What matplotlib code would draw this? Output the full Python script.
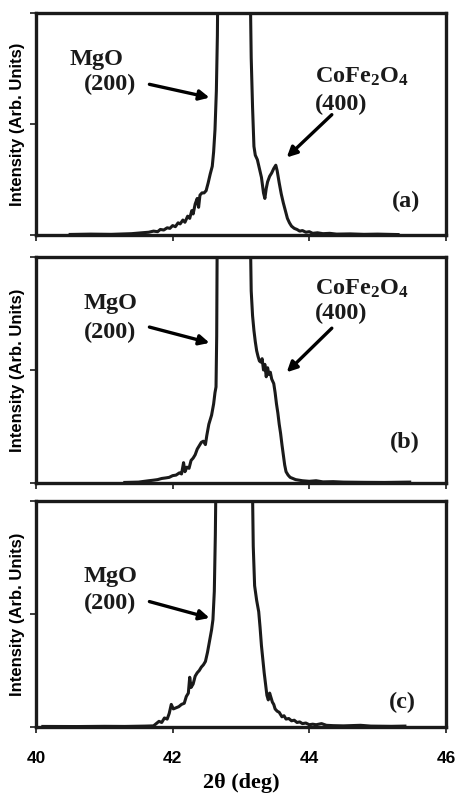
import numpy as np
import matplotlib.pyplot as plt

plt.rcParams['mathtext.fontset'] = 'custom'
plt.rcParams['mathtext.rm'] = 'Liberation Serif:bold'
plt.rcParams['mathtext.bf'] = 'Liberation Serif:bold'
plt.rcParams['mathtext.it'] = 'Liberation Serif:bold'

# Dane (2theta w stopniach, intensywnosc w j. umownych)
x_a = [40.5, 40.8, 41.1, 41.4, 41.55, 41.65, 41.72, 41.78, 41.82, 41.87, 41.92, 41.96,
       42.0, 42.04, 42.08, 42.11, 42.15, 42.18, 42.22, 42.25, 42.28, 42.3, 42.33, 42.36,
       42.38, 42.4, 42.43, 42.46, 42.49, 42.52, 42.55, 42.58, 42.6, 42.62, 42.64, 42.655,
       42.665, 42.7, 43.1, 43.13, 43.15, 43.17, 43.19, 43.21, 43.24, 43.27, 43.3, 43.33,
       43.35, 43.37, 43.39, 43.42, 43.45, 43.48, 43.51, 43.53, 43.56, 43.59, 43.62, 43.65,
       43.68, 43.71, 43.74, 43.78, 43.82, 43.86, 43.9, 43.95, 44.0, 44.05, 44.12, 44.2,
       44.3, 44.4, 44.6, 44.8, 45.0, 45.3]
y_a = [0.005, 0.008, 0.006, 0.012, 0.02, 0.025, 0.035, 0.03, 0.05, 0.045, 0.065, 0.06,
       0.085, 0.075, 0.11, 0.10, 0.135, 0.115, 0.17, 0.15, 0.22, 0.19, 0.28, 0.33,
       0.25, 0.36, 0.38, 0.38, 0.40, 0.47, 0.55, 0.62, 0.75, 0.95, 1.3, 1.8,
       2.5, 10, 10, 2.5, 1.6, 1.15, 0.8, 0.72, 0.68, 0.6, 0.52, 0.38,
       0.33, 0.42, 0.48, 0.53, 0.56, 0.6, 0.63, 0.58, 0.47, 0.37, 0.29, 0.22,
       0.15, 0.11, 0.08, 0.06, 0.05, 0.035, 0.04, 0.025, 0.03, 0.015, 0.02, 0.012,
       0.015, 0.008, 0.01, 0.006, 0.008, 0.004]

x_b = [41.3, 41.5, 41.65, 41.72, 41.78, 41.84, 41.9, 41.95, 42.0, 42.05, 42.1, 42.13,
       42.16, 42.18, 42.21, 42.24, 42.27, 42.3, 42.33, 42.36, 42.39, 42.42, 42.45, 42.48,
       42.5, 42.53, 42.55, 42.57, 42.6, 42.62, 42.635, 42.645, 42.655, 42.7, 43.1, 43.13,
       43.15, 43.17, 43.19, 43.21, 43.23, 43.25, 43.27, 43.29, 43.31, 43.33, 43.35, 43.37,
       43.39, 43.41, 43.43, 43.45, 43.48, 43.5, 43.52, 43.54, 43.56, 43.58, 43.6, 43.62,
       43.64, 43.66, 43.69, 43.72, 43.76, 43.8, 43.85, 43.9, 44.0, 44.1, 44.2, 44.35,
       44.5, 44.8, 45.1, 45.47]
y_b = [0.005, 0.008, 0.02, 0.025, 0.03, 0.04, 0.045, 0.05, 0.065, 0.07, 0.09, 0.08,
       0.18, 0.1, 0.14, 0.13, 0.2, 0.22, 0.25, 0.3, 0.33, 0.36, 0.37, 0.34,
       0.42, 0.52, 0.56, 0.6, 0.7, 0.8, 0.85, 1.3, 2.5, 10, 10, 2.5,
       1.7, 1.48, 1.35, 1.25, 1.17, 1.12, 1.08, 1.07, 1.1, 1.0, 1.05, 0.94,
       1.02, 0.96, 0.98, 0.92, 0.88, 0.8, 0.7, 0.62, 0.52, 0.44, 0.34, 0.25,
       0.16, 0.1, 0.07, 0.05, 0.04, 0.03, 0.025, 0.02, 0.015, 0.02, 0.01, 0.012,
       0.008, 0.006, 0.005, 0.008]

x_c = [40.1, 40.6, 41.0, 41.3, 41.6, 41.72, 41.76, 41.8, 41.84, 41.88, 41.92, 41.95,
       41.98, 42.01, 42.05, 42.09, 42.13, 42.17, 42.2, 42.23, 42.25, 42.27, 42.3, 42.33,
       42.36, 42.39, 42.42, 42.45, 42.48, 42.51, 42.54, 42.57, 42.59, 42.61, 42.625, 42.64,
       42.7, 43.12, 43.16, 43.18, 43.2, 43.23, 43.26, 43.28, 43.3, 43.32, 43.34, 43.36,
       43.38, 43.4, 43.42, 43.44, 43.46, 43.48, 43.5, 43.53, 43.56, 43.6, 43.63, 43.66,
       43.7, 43.74, 43.78, 43.82, 43.86, 43.9, 43.95, 44.0, 44.05, 44.1, 44.18, 44.25,
       44.35, 44.5, 44.75, 44.9, 45.2, 45.4]
y_c = [0.005, 0.004, 0.006, 0.005, 0.008, 0.01, 0.03, 0.05, 0.04, 0.08, 0.07, 0.12,
       0.2, 0.16, 0.17, 0.18, 0.2, 0.21, 0.27, 0.3, 0.44, 0.35, 0.38, 0.45,
       0.48, 0.5, 0.53, 0.55, 0.58, 0.66, 0.76, 0.86, 0.95, 1.2, 1.7, 2.5,
       10, 10, 2.5, 1.6, 1.25, 1.12, 1.02, 0.88, 0.72, 0.6, 0.48, 0.38,
       0.28, 0.24, 0.3, 0.26, 0.22, 0.2, 0.16, 0.14, 0.13, 0.09, 0.1, 0.07,
       0.075, 0.055, 0.06, 0.04, 0.045, 0.03, 0.035, 0.02, 0.025, 0.02, 0.03, 0.015,
       0.012, 0.01, 0.015, 0.008, 0.006, 0.008]

panel_labels = ['(a)', '(b)', '(c)']
x_ticks = [40, 42, 44, 46]

serif = 'Liberation Serif'
sans = 'Liberation Sans'

fig = plt.figure(figsize=(4.58, 8.0), dpi=100)
# pozycje paneli [lewo, dol, szerokosc, wysokosc]
boxes = [[0.0786, 0.70625, 0.895, 0.277],
         [0.0786, 0.39625, 0.895, 0.2825],
         [0.0786, 0.09125, 0.895, 0.2825]]
axes = [fig.add_axes(b) for b in boxes]

for ax, xs, ys in zip(axes, [x_a, x_b, x_c], [y_a, y_b, y_c]):
    ax.plot(xs, ys, color='#1a1a1a', lw=2.2, solid_joinstyle='round')
    ax.set_xlim(40, 46)
    ax.set_ylim(0, 2)
    ax.set_xticks(x_ticks)
    ax.set_yticks([0, 1, 2])
    ax.set_yticklabels([])
    for s in ax.spines.values():
        s.set_linewidth(2.4)
        s.set_color('#1a1a1a')
    ax.tick_params(direction='out', length=4, width=1.2, color='#1a1a1a')
    ax.set_ylabel('Intensity (Arb. Units)', fontfamily=sans, fontweight='bold',
                  fontsize=12, labelpad=0.5)

axes[0].set_xticklabels([])
axes[1].set_xticklabels([])
axes[2].set_xticklabels([str(t) for t in x_ticks], fontfamily=sans,
                        fontweight='bold', fontsize=12.5)
axes[2].tick_params(axis='x', pad=13)
axes[2].set_xlabel('2θ (deg)', fontfamily=serif, fontweight='bold',
                   fontsize=16, labelpad=5)

tkw = dict(fontfamily=serif, fontweight='bold', fontsize=17.5, color='#1a1a1a')
akw = dict(arrowstyle='-|>,head_length=0.6,head_width=0.3', lw=2.4, color='black',
           shrinkA=0, shrinkB=0)

# MgO (200)
mgo_pos = [((40.88, 1.58), (41.09, 1.36), (41.66, 1.36), (42.54, 1.24)),
           ((41.09, 1.59), (41.09, 1.33), (41.66, 1.38), (42.54, 1.24)),
           ((41.09, 1.33), (41.09, 1.09), (41.66, 1.11), (42.54, 0.965))]
for ax, (p1, p2, a0, a1) in zip(axes, mgo_pos):
    ax.text(p1[0], p1[1], 'MgO', ha='center', va='center', **tkw)
    ax.text(p2[0], p2[1], '(200)', ha='center', va='center', **tkw)
    ax.annotate('', xy=a1, xytext=a0, arrowprops=akw)

# CoFe2O4 (400)
cfo_pos = [((44.08, 1.43), (44.08, 1.18), (44.33, 1.086), (43.67, 0.70)),
           ((44.08, 1.72), (44.08, 1.50), (44.33, 1.37), (43.67, 0.98))]
for ax, (p1, p2, a0, a1) in zip(axes[:2], cfo_pos):
    ax.text(p1[0], p1[1], r'CoFe$_{2}$O$_{4}$', ha='left', va='center', **tkw)
    ax.text(p2[0], p2[1], '(400)', ha='left', va='center', **tkw)
    ax.annotate('', xy=a1, xytext=a0, arrowprops=akw)

lab_pos = [(45.41, 0.30), (45.40, 0.36), (45.37, 0.22)]
for ax, lab, (lx, ly) in zip(axes, panel_labels, lab_pos):
    ax.text(lx, ly, lab, ha='center', va='center', **tkw)

fig.savefig('out.png', dpi=100)
